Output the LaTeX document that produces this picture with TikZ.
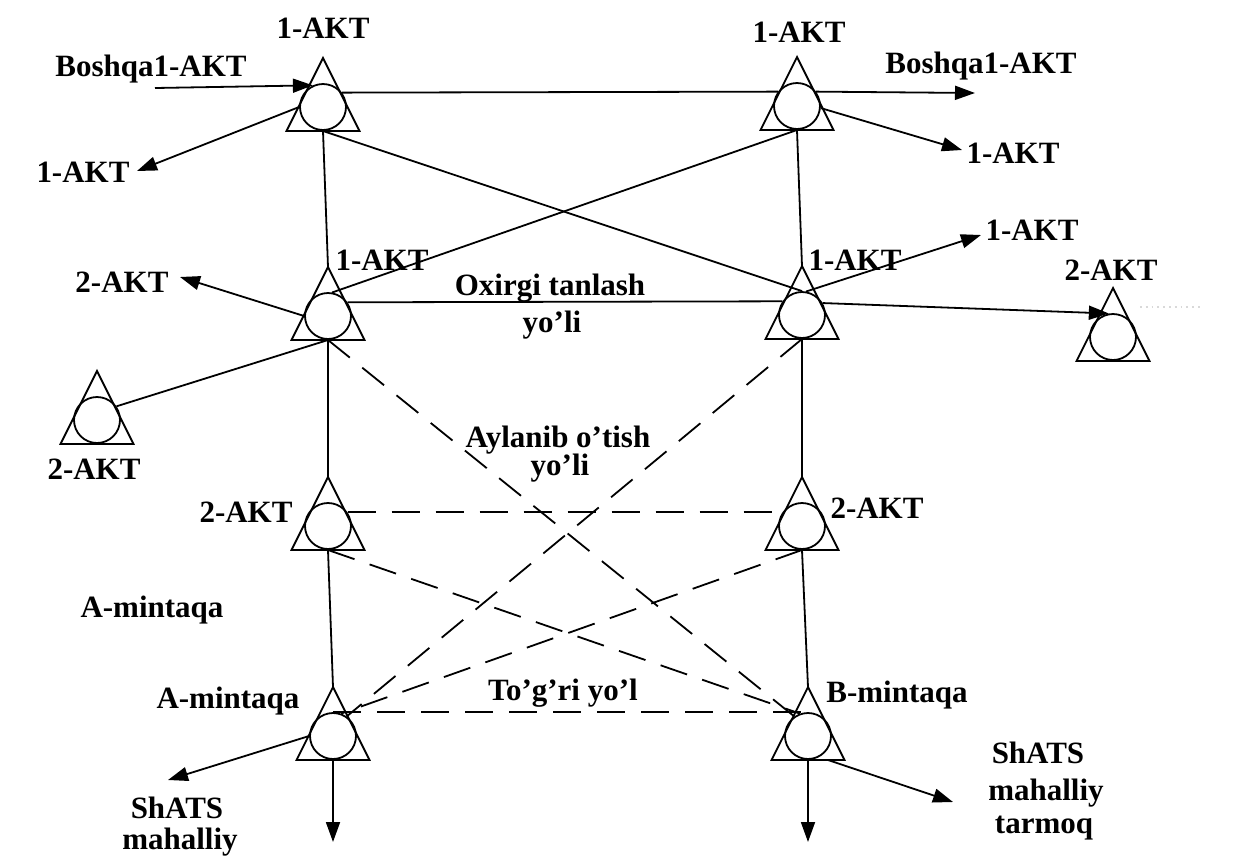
\documentclass[tikz,border=0pt]{standalone}
\usepackage{fontspec}
\setmainfont{Liberation Serif}
\usetikzlibrary{arrows.meta,calc}

\tikzset{
	stn/.style={circle,draw,minimum size=23pt,inner sep=0pt},
	lbl/.style={font=\fontsize{15.5}{18}\selectfont\bfseries,inner sep=0pt,anchor=base},
	arr/.style={-{Triangle[length=10pt,width=7pt]}},
	dsh/.style={dash pattern=on 14pt off 8pt},
}

\begin{document}
\begin{tikzpicture}[x=0.5pt,y=-0.5pt,line width=0.9pt]
	\path[use as bounding box,fill=white] (0,0) rectangle (1250,858);

	\foreach \n/\x/\y in {tl/323/107, tr/797/106, ml/328/316, mr/802/315, fl/97/420, fr/1113/337, la/328/526, ra/802/526, bl/333/736, br/808/736} {
		\draw (\x-36.5,\y+24) -- (\x,\y-49) -- (\x+36.5,\y+24) -- cycle;
		\node[stn] (\n) at (\x,\y) {};
		\coordinate (\n-top) at (\x,\y-49);
		\coordinate (\n-bot) at (\x,\y+24);
	}

	\node[lbl] (tl-lbl) at (323,38) {1-AKT};
	\node[lbl] (tr-lbl) at (799,42) {1-AKT};
	\node[lbl] (bq-in-lbl) at (151,76) {Boshqa1-AKT};
	\node[lbl] (bq-out-lbl) at (981,73) {Boshqa1-AKT};
	\node[lbl] (tl-out-lbl) at (83,182) {1-AKT};
	\node[lbl] (tr-out-lbl) at (1013,163) {1-AKT};
	\node[lbl] (ml-lbl) at (382,270) {1-AKT};
	\node[lbl] (mr-lbl) at (855,270) {1-AKT};
	\node[lbl] (mr-out-lbl) at (1032,240) {1-AKT};
	\node[lbl] (fr-lbl) at (1111,280) {2-AKT};
	\node[lbl] (ml-out-lbl) at (122,292) {2-AKT};
	\node[lbl] (fl-lbl) at (94,479) {2-AKT};
	\node[lbl] (last-a) at (550,295) {Oxirgi tanlash};
	\node[lbl] (last-b) at (552,332) {yo’li};
	\node[lbl] (bypass-a) at (558,447) {Aylanib o’tish};
	\node[lbl] (bypass-b) at (560,475) {yo’li};
	\node[lbl] (la-lbl) at (246,522) {2-AKT};
	\node[lbl] (ra-lbl) at (877,518) {2-AKT};
	\node[lbl] (zone-a) at (152,617) {A-mintaqa};
	\node[lbl] (bl-lbl) at (228,708) {A-mintaqa};
	\node[lbl] (direct) at (563,700) {To’g’ri yo’l};
	\node[lbl] (br-lbl) at (897,702) {B-mintaqa};
	\node[lbl] (bl-out-a) at (177,818) {ShATS};
	\node[lbl] (bl-out-b) at (180,849) {mahalliy};
	\node[lbl] (br-out-a) at (1038,763) {ShATS};
	\node[lbl] (br-out-b) at (1046,800) {mahalliy};
	\node[lbl] (br-out-c) at (1044,833) {tarmoq};

	\coordinate (in-s) at (155,88);
	\coordinate (tl-out) at (137,171);
	\coordinate (tr-out1) at (975,93);
	\coordinate (tr-out2) at (962,150);
	\coordinate (ml-out) at (180,277);
	\coordinate (mr-out) at (981,235);
	\coordinate (bl-out) at (168,780);
	\coordinate (bl-down) at (333,842);
	\coordinate (br-down) at (808,842);
	\coordinate (br-out) at (953,802);
	\coordinate (dot-s) at (1140,307);
	\coordinate (dot-e) at (1200,307);

	\draw[arr] (in-s) -- (tl.115);
	\draw[arr] (tl.west) -- (tl-out);
	\draw (tl.37) -- (tr.143);
	\draw[arr] (tr.37) -- (tr-out1);
	\draw[arr] (tr.-5) -- (tr-out2);
	\draw (tl-bot) -- (ml-top);
	\draw (tr-bot) -- (mr-top);
	\draw (tl-bot) -- (mr.north);
	\draw (tr-bot) -- (ml.80);
	\draw (ml.35) -- (mr.145);
	\draw[arr] (mr.30) -- (fr.100);
	\draw[arr] (ml.west) -- (ml-out);
	\draw (ml-bot) -- (fl.35);
	\draw[arr] (mr.80) -- (mr-out);
	\draw (ml-bot) -- (la-top);
	\draw (mr-bot) -- (ra-top);
	\draw (la-bot) -- (bl-top);
	\draw (ra-bot) -- (br-top);
	\draw[arr] (bl.west) -- (bl-out);
	\draw[arr] (bl-bot) -- (bl-down);
	\draw[arr] (br-bot) -- (br-down);
	\draw[arr] ($(br-bot)+(20,0)$) -- (br-out);
	\draw[gray!30,dotted] (dot-s) -- (dot-e);

	\draw[dsh] (ml-bot) -- (br.125);
	\draw[dsh] (mr-bot) -- (bl.55);
	\draw[dsh] (la.35) -- (ra.145);
	\draw[dsh] (la-bot) -- (br.110);
	\draw[dsh] (ra-bot) -- (bl.70);
	\draw[dsh] (bl.north) -- (br.north);
\end{tikzpicture}
\end{document}
